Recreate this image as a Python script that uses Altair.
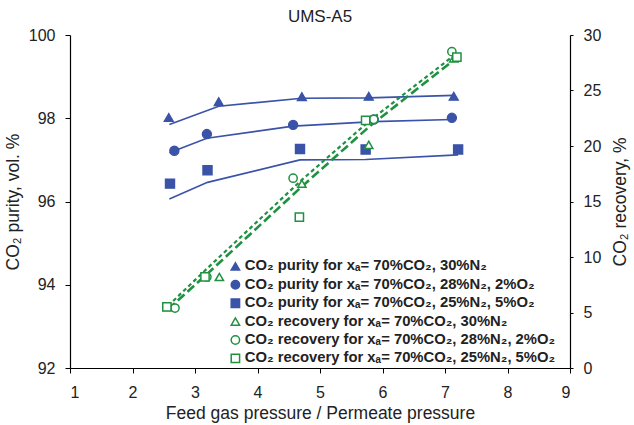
import altair as alt
import pandas as pd

# ---- data ----
labels = [
    "CO₂ purity for xₐ= 70%CO₂, 30%N₂",
    "CO₂ purity for xₐ= 70%CO₂, 28%N₂, 2%O₂",
    "CO₂ purity for xₐ= 70%CO₂, 25%N₂, 5%O₂",
    "CO₂ recovery for xₐ= 70%CO₂, 30%N₂",
    "CO₂ recovery for xₐ= 70%CO₂, 28%N₂, 2%O₂",
    "CO₂ recovery for xₐ= 70%CO₂, 25%N₂, 5%O₂",
]

x_tri = [2.58, 3.38, 4.71, 5.78, 7.14]
x_cir = [2.67, 3.19, 4.57, 5.86, 7.11]
x_sq = [2.60, 3.20, 4.68, 5.73, 7.21]

purity_tri = [98.02, 98.40, 98.52, 98.53, 98.53]
purity_cir = [97.22, 97.62, 97.84, 97.97, 98.01]
purity_sq = [96.43, 96.75, 97.26, 97.25, 97.25]

model_x_tri = [2.59, 3.38, 4.71, 5.78, 7.14]
model_x_cir = [2.59, 3.19, 4.57, 5.86, 7.11]
model_x_sq = [2.59, 3.20, 4.68, 5.73, 7.21]
model_purity_tri = [97.85, 98.29, 98.48, 98.49, 98.55]
model_purity_cir = [97.17, 97.52, 97.81, 97.92, 97.97]
model_purity_sq = [96.06, 96.46, 97.00, 97.01, 97.12]

rx_tri = [2.56, 3.39, 4.71, 5.78, 7.14]
rx_cir = [2.68, 3.19, 4.57, 5.86, 7.11]
rx_sq = [2.55, 3.16, 4.67, 5.73, 7.19]
recovery_tri = [5.5, 8.2, 16.6, 20.1, 27.9]
recovery_cir = [5.4, 8.2, 17.1, 22.4, 28.5]
recovery_sq = [5.5, 8.2, 13.6, 22.3, 28.0]

model_rx = [2.57, 3.20, 4.70, 5.80, 7.20]
model_recovery_a = [5.3, 8.5, 16.3, 21.8, 28.0]
model_recovery_b = [5.6, 9.0, 16.9, 22.3, 28.4]

BLUE = "#3a53a8"
GREEN = "#1f9140"
FONT = "Liberation Sans"

# ---- tables ----
pur_pts = pd.DataFrame({
    "x": x_tri + x_cir + x_sq,
    "y": purity_tri + purity_cir + purity_sq,
    "series": [labels[0]] * 5 + [labels[1]] * 5 + [labels[2]] * 5,
})
rec_pts = pd.DataFrame({
    "x": rx_tri + rx_cir + rx_sq,
    "y": recovery_tri + recovery_cir + recovery_sq,
    "series": [labels[3]] * 5 + [labels[4]] * 5 + [labels[5]] * 5,
})
pur_lines = pd.DataFrame({
    "x": model_x_tri + model_x_cir + model_x_sq,
    "y": model_purity_tri + model_purity_cir + model_purity_sq,
    "line": ["t"] * 5 + ["c"] * 5 + ["s"] * 5,
})
rec_line_a = pd.DataFrame({"x": model_rx, "y": model_recovery_a})
rec_line_b = pd.DataFrame({"x": model_rx, "y": model_recovery_b})

xscale = alt.Scale(domain=[1, 9])
xaxis = alt.Axis(values=list(range(1, 10)), title="Feed gas pressure / Permeate pressure",
                 format="d", labelPadding=11, titlePadding=4)

shape_s = alt.Scale(domain=labels, range=["triangle-up", "circle", "square",
                                          "triangle-up", "circle", "square"])
stroke_s = alt.Scale(domain=labels, range=[BLUE] * 3 + [GREEN] * 3)
fill_s = alt.Scale(domain=labels, range=[BLUE] * 3 + ["white"] * 3)


def point_enc(chart, yenc):
    return chart.encode(
        x=alt.X("x:Q", scale=xscale, axis=xaxis),
        y=yenc,
        shape=alt.Shape("series:N", scale=shape_s, title=None),
        stroke=alt.Stroke("series:N", scale=stroke_s, title=None),
        fill=alt.Fill("series:N", scale=fill_s, title=None),
    )


ypur = alt.Y("y:Q", scale=alt.Scale(domain=[92, 100]),
             axis=alt.Axis(values=[92, 94, 96, 98, 100], title="CO₂ purity, vol. %",
                           orient="left", titlePadding=6, labelPadding=10))
yrec = alt.Y("y:Q", scale=alt.Scale(domain=[0, 30]),
             axis=alt.Axis(values=[0, 5, 10, 15, 20, 25, 30], title="CO₂ recovery, %",
                           orient="right", titlePadding=29, titleAngle=270,
                           labelPadding=10, tickSize=3))

blue_lines = alt.Chart(pur_lines).mark_line(color=BLUE, strokeWidth=1.6).encode(
    x=alt.X("x:Q", scale=xscale, axis=xaxis), y=ypur, detail="line:N")
pur_points = point_enc(alt.Chart(pur_pts).mark_point(strokeWidth=1.2, opacity=1, size=85), ypur)

green_a = alt.Chart(rec_line_a).mark_line(color=GREEN, strokeWidth=2.6, strokeDash=[9, 4]).encode(
    x=alt.X("x:Q", scale=xscale, axis=xaxis), y=yrec)
green_b = alt.Chart(rec_line_b).mark_line(color=GREEN, strokeWidth=2.2, strokeDash=[4, 3]).encode(
    x=alt.X("x:Q", scale=xscale, axis=xaxis), y=yrec)
rec_points = point_enc(alt.Chart(rec_pts).mark_point(strokeWidth=1.5, opacity=1, size=68), yrec)

left = alt.layer(blue_lines, pur_points)
right = alt.layer(green_a, green_b, rec_points)

chart = alt.layer(left, right).resolve_scale(y="independent").properties(
    width=500, height=333,
    title=alt.TitleParams("UMS-A5", fontSize=17, fontWeight="normal", font=FONT,
                          color="#222", offset=1),
    autosize=alt.AutoSizeParams(type="none"),
    padding={"left": 70, "top": 35, "right": 64, "bottom": 57},
).configure_view(stroke=None).configure_axis(
    domainColor="black", tickColor="black", grid=False, labelFont=FONT, titleFont=FONT,
    labelFontSize=16, titleFontSize=17.5, labelColor="#222", titleColor="#222",
    titleFontWeight="normal", tickSize=5, labelPadding=6, domainWidth=1.2,
).configure_legend(
    orient="none", legendX=158, legendY=224, labelFont=FONT, labelFontSize=14.8,
    labelFontWeight="bold", labelColor="#222", symbolSize=70, symbolStrokeWidth=1.5,
    rowPadding=2.4, labelOffset=2, labelLimit=400,
)

chart.save("out.html", embed_options={"renderer": "svg", "actions": False})
